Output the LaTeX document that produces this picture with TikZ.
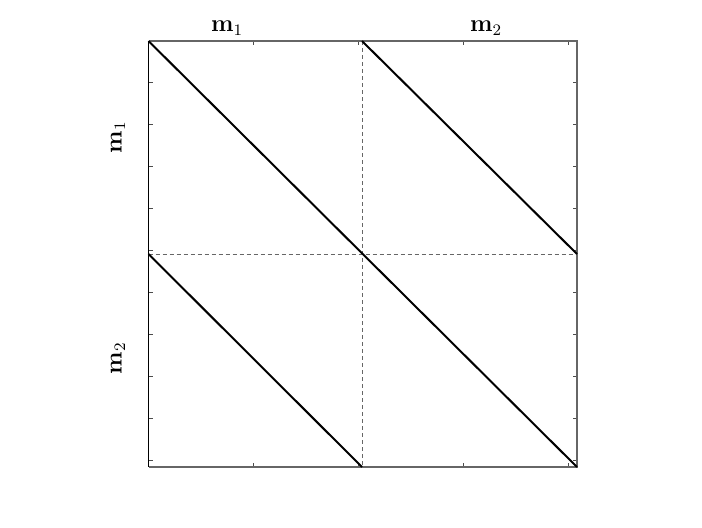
\documentclass[tikz,border=0pt]{standalone}
\usepackage{amsmath}
\begin{document}
\begin{tikzpicture}[x=0.5pt,y=-0.5pt,
  frame/.style={draw=black!60,line width=0.75pt},
  diag/.style={draw=black,line width=1pt},
  guide/.style={draw=black!60,dashed,line width=0.5pt,dash pattern=on 2pt off 1.5pt},
  tick/.style={draw=black!70,line width=0.5pt},
  lab/.style={font=\fontsize{12}{14}\selectfont}]
\useasboundingbox (0,0) rectangle (702,527);
% corners
\coordinate (TL) at (148.5,41);
\coordinate (TR) at (577,41);
\coordinate (BL) at (148.5,467);
\coordinate (BR) at (577,467);
\coordinate (TM) at (362,41);
\coordinate (BM) at (362,467);
\coordinate (LM) at (148.5,254);
\coordinate (RM) at (577,254);
\coordinate (C) at (362,254);
% ticks
\foreach \k in {1,...,10} {
  \draw[tick] (148.5,41+41.9*\k) -- ++(4,0);
  \draw[tick] (577,41+41.9*\k) -- ++(-4,0);
}
\foreach \k in {1,...,4} {
  \draw[tick] (148.5+105*\k,41) -- ++(0,4);
  \draw[tick] (148.5+105*\k,467) -- ++(0,-4);
}
% dashed guides
\draw[guide] (TM) -- (BM);
\draw[guide] (LM) -- (RM);
% frame
\draw[frame] (TL) -- (TR) -- (BR) -- (BL);
\draw[draw=black,line width=0.75pt] (TL) -- (BL);
% diagonals
\draw[diag] (TL) -- (BR);
\draw[diag] (TM) -- (RM);
\draw[diag] (LM) -- (BM);
% labels
\node[lab] (t1) at (227,28) {$\mathbf{m}_1$};
\node[lab] (t2) at (486,28) {$\mathbf{m}_2$};
\node[lab,rotate=90] (l1) at (118,137) {$\mathbf{m}_1$};
\node[lab,rotate=90] (l2) at (118,358) {$\mathbf{m}_2$};
\end{tikzpicture}
\end{document}
